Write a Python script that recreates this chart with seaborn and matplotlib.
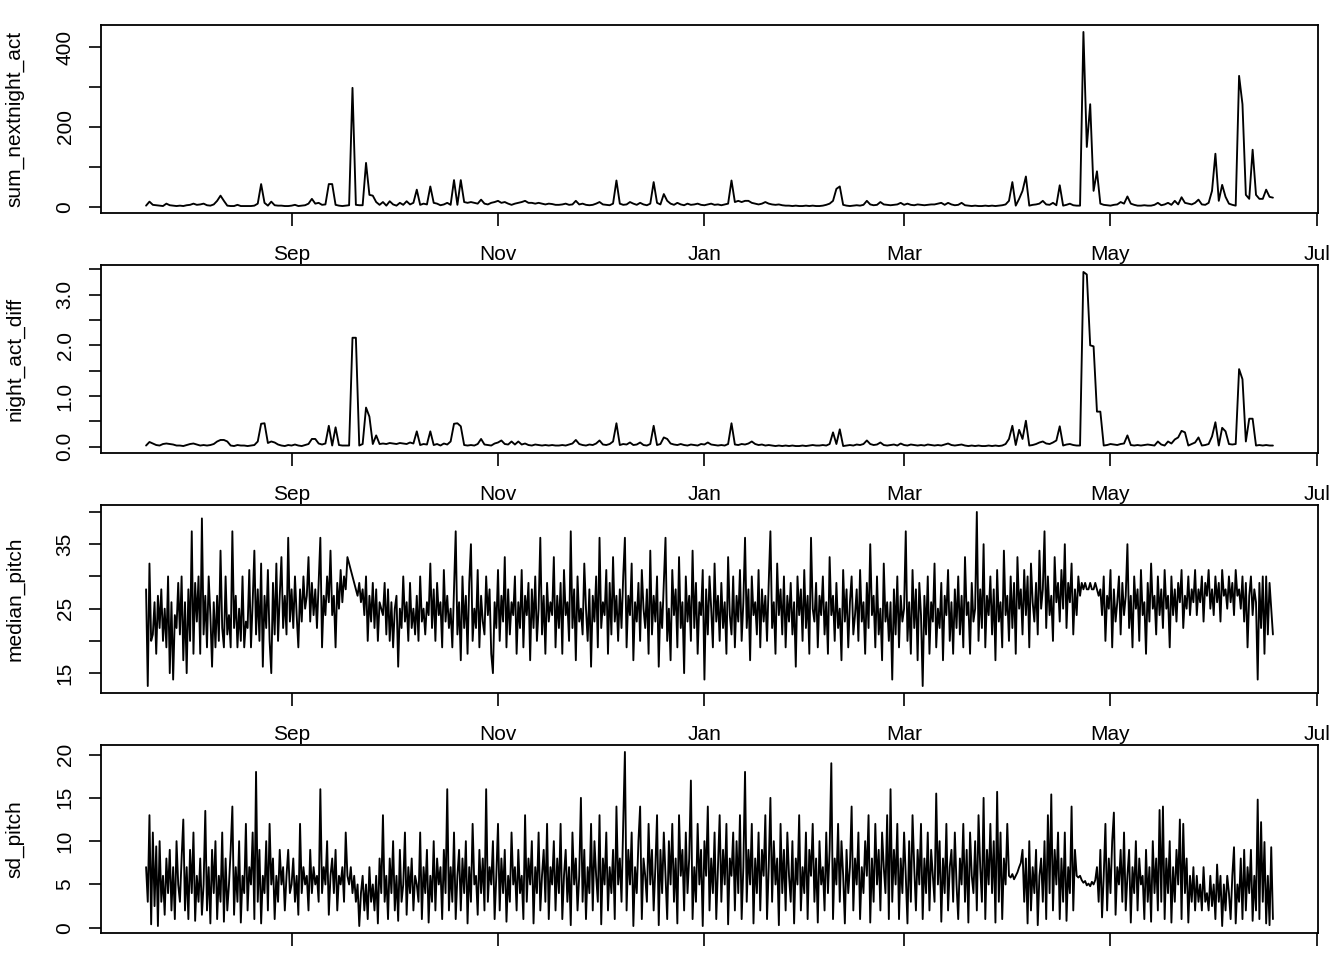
import numpy as np
import pandas as pd
import matplotlib
matplotlib.use("Agg")
import matplotlib.pyplot as plt
import matplotlib.dates as mdates
import seaborn as sns

start = "2018-07-20"

# one value per day
sum_nextnight_act = [
    3, 13, 5, 4, 3, 2, 8, 4, 3, 2,
    3, 2, 4, 5, 8, 5, 6, 8, 4, 3,
    6, 15, 28, 15, 3, 2, 2, 5, 2, 2,
    2, 2, 3, 8, 57, 10, 3, 13, 4, 3,
    3, 2, 2, 3, 5, 2, 3, 4, 8, 20,
    8, 10, 5, 6, 57, 57, 5, 3, 2, 3,
    4, 298, 5, 4, 4, 110, 30, 28, 12, 5,
    12, 3, 14, 6, 3, 10, 5, 14, 6, 10,
    43, 5, 8, 6, 51, 10, 8, 4, 6, 10,
    5, 67, 5, 67, 12, 10, 12, 10, 8, 18,
    8, 6, 10, 12, 15, 10, 12, 8, 5, 8,
    10, 12, 15, 10, 10, 8, 10, 8, 6, 8,
    7, 5, 5, 6, 8, 5, 6, 15, 6, 8,
    5, 4, 5, 8, 12, 6, 5, 4, 8, 66,
    8, 5, 6, 12, 8, 5, 10, 6, 4, 8,
    62, 10, 6, 32, 15, 8, 5, 10, 6, 4,
    8, 5, 6, 8, 5, 4, 6, 8, 5, 6,
    4, 6, 8, 66, 12, 15, 12, 15, 15, 10,
    8, 6, 8, 12, 8, 6, 5, 6, 4, 3,
    3, 2, 3, 2, 2, 3, 2, 3, 2, 2,
    3, 5, 8, 15, 45, 51, 5, 3, 2, 3,
    4, 3, 5, 15, 6, 4, 5, 12, 6, 5,
    4, 5, 6, 10, 5, 8, 5, 4, 6, 5,
    4, 5, 6, 6, 8, 10, 5, 10, 6, 4,
    5, 10, 4, 3, 2, 3, 2, 2, 3, 2,
    3, 2, 3, 4, 6, 15, 62, 3, 20, 40,
    76, 3, 5, 6, 8, 15, 6, 5, 10, 4,
    54, 3, 5, 8, 4, 3, 3, 438, 150, 257,
    40, 89, 8, 5, 4, 3, 5, 6, 12, 8,
    26, 8, 5, 3, 3, 4, 3, 3, 5, 10,
    4, 6, 10, 5, 15, 6, 24, 10, 8, 6,
    10, 18, 6, 5, 10, 40, 133, 15, 55, 25,
    8, 5, 3, 328, 257, 30, 20, 143, 30, 20,
    20, 43, 25, 23]

night_act_diff = [
    0.02, 0.09, 0.06, 0.03, 0.02, 0.05, 0.06, 0.05, 0.04, 0.02,
    0.02, 0.01, 0.03, 0.05, 0.06, 0.04, 0.02, 0.03, 0.02, 0.03,
    0.05, 0.1, 0.13, 0.13, 0.1, 0.02, 0.01, 0.03, 0.02, 0.02,
    0.01, 0.02, 0.03, 0.1, 0.45, 0.46, 0.07, 0.1, 0.08, 0.04,
    0.02, 0.01, 0.03, 0.02, 0.04, 0.02, 0.01, 0.03, 0.05, 0.15,
    0.15, 0.06, 0.04, 0.06, 0.41, 0.02, 0.38, 0.03, 0.02, 0.02,
    0.02, 2.15, 2.15, 0.02, 0.05, 0.77, 0.59, 0.05, 0.22, 0.05,
    0.06, 0.05, 0.07, 0.06, 0.05, 0.07, 0.06, 0.05, 0.08, 0.06,
    0.3, 0.03, 0.05, 0.04, 0.3, 0.03, 0.05, 0.02, 0.06, 0.04,
    0.1, 0.45, 0.46, 0.4, 0.03, 0.02, 0.03, 0.02, 0.05, 0.15,
    0.04, 0.03, 0.02, 0.06, 0.08, 0.12, 0.05, 0.04, 0.1, 0.04,
    0.1, 0.04, 0.06, 0.03, 0.02, 0.04, 0.03, 0.02, 0.03, 0.02,
    0.03, 0.02, 0.02, 0.03, 0.02, 0.04, 0.06, 0.13, 0.05, 0.03,
    0.02, 0.04, 0.03, 0.06, 0.12, 0.04, 0.03, 0.05, 0.1, 0.46,
    0.03, 0.05, 0.04, 0.08, 0.03, 0.04, 0.08, 0.03, 0.02, 0.05,
    0.41, 0.03, 0.05, 0.18, 0.15, 0.06, 0.04, 0.03, 0.05, 0.03,
    0.02, 0.04, 0.03, 0.02, 0.05, 0.04, 0.08, 0.04, 0.03, 0.02,
    0.03, 0.02, 0.05, 0.46, 0.04, 0.03, 0.05, 0.04, 0.06, 0.1,
    0.05, 0.03, 0.04, 0.02, 0.03, 0.02, 0.01, 0.02, 0.01, 0.02,
    0.01, 0.02, 0.01, 0.01, 0.02, 0.01, 0.02, 0.03, 0.02, 0.02,
    0.03, 0.02, 0.05, 0.28, 0.05, 0.34, 0.01, 0.02, 0.03, 0.02,
    0.04, 0.03, 0.05, 0.12, 0.05, 0.03, 0.04, 0.08, 0.03, 0.02,
    0.03, 0.04, 0.02, 0.06, 0.03, 0.02, 0.04, 0.03, 0.02, 0.03,
    0.02, 0.04, 0.03, 0.02, 0.03, 0.02, 0.04, 0.06, 0.03, 0.02,
    0.03, 0.04, 0.02, 0.01, 0.02, 0.01, 0.02, 0.01, 0.01, 0.02,
    0.01, 0.02, 0.01, 0.02, 0.05, 0.15, 0.41, 0.03, 0.33, 0.15,
    0.51, 0.02, 0.03, 0.05, 0.08, 0.1, 0.06, 0.05, 0.08, 0.12,
    0.4, 0.02, 0.04, 0.05, 0.03, 0.02, 0.02, 3.45, 3.4, 2.0,
    1.98, 0.69, 0.69, 0.02, 0.03, 0.05, 0.04, 0.03, 0.05, 0.06,
    0.22, 0.03, 0.02, 0.03, 0.02, 0.03, 0.04, 0.03, 0.02, 0.1,
    0.04, 0.02, 0.1, 0.06, 0.14, 0.18, 0.31, 0.28, 0.02, 0.05,
    0.08, 0.18, 0.02, 0.03, 0.05, 0.2, 0.48, 0.02, 0.37, 0.3,
    0.05, 0.04, 0.05, 1.53, 1.33, 0.1, 0.55, 0.55, 0.02, 0.03,
    0.02, 0.03, 0.02, 0.02]

# two readings per day
median_pitch = [
    28, 13, 32, 20, 21, 26, 18, 27, 22, 28, 20, 25, 19, 30, 15, 26, 14, 24, 22, 29,
    21, 30, 17, 26, 15, 28, 20, 37, 18, 29, 23, 30, 18, 39, 21, 27, 19, 30, 24, 16,
    26, 19, 27, 20, 34, 22, 19, 30, 21, 24, 19, 37, 22, 27, 19, 25, 20, 30, 19, 23,
    22, 31, 19, 26, 34, 21, 28, 20, 32, 16, 27, 22, 31, 20, 15, 29, 21, 32, 20, 27,
    33, 22, 27, 21, 36, 23, 28, 22, 30, 24, 19, 28, 23, 30, 25, 27, 33, 23, 29, 24,
    28, 22, 29, 36, 19, 27, 24, 30, 26, 34, 24, 27, 19, 29, 25, 31, 26, 30, 28, 33,
    32, 31, 30, 29, 28, 27, 29, 26, 28, 24, 30, 20, 27, 23, 29, 22, 28, 20, 26, 25,
    24, 29, 21, 28, 20, 26, 19, 25, 27, 16, 25, 22, 30, 23, 26, 20, 29, 22, 25, 21,
    27, 20, 30, 23, 25, 21, 26, 24, 32, 22, 28, 20, 29, 24, 26, 19, 31, 23, 27, 22,
    25, 19, 28, 37, 21, 26, 17, 30, 22, 27, 18, 29, 35, 20, 25, 22, 31, 19, 27, 23,
    21, 30, 24, 28, 18, 15, 26, 22, 31, 20, 27, 23, 33, 19, 28, 21, 26, 24, 30, 18,
    26, 22, 31, 19, 27, 24, 29, 17, 28, 22, 30, 20, 25, 36, 21, 27, 18, 29, 23, 26,
    24, 33, 19, 27, 22, 29, 18, 31, 24, 26, 20, 37, 22, 28, 17, 30, 23, 25, 21, 32,
    25, 20, 28, 16, 27, 23, 30, 19, 36, 22, 26, 24, 31, 18, 29, 21, 33, 23, 27, 20,
    28, 22, 30, 36, 19, 27, 24, 32, 17, 26, 23, 29, 20, 31, 25, 22, 28, 18, 34, 21,
    27, 23, 30, 16, 26, 22, 29, 36, 20, 25, 17, 31, 24, 28, 19, 33, 22, 26, 15, 30,
    23, 27, 20, 34, 22, 29, 18, 26, 24, 31, 14, 28, 21, 30, 25, 19, 32, 23, 27, 20,
    29, 22, 26, 18, 33, 24, 21, 30, 19, 27, 23, 31, 20, 26, 36, 22, 28, 17, 30, 24,
    26, 21, 31, 19, 28, 23, 27, 20, 29, 37, 22, 26, 18, 32, 24, 28, 21, 30, 19, 27,
    23, 29, 21, 26, 16, 30, 24, 28, 20, 31, 22, 27, 18, 36, 25, 23, 29, 19, 27, 24,
    30, 21, 26, 18, 33, 24, 27, 20, 29, 22, 25, 17, 31, 23, 28, 19, 26, 30, 21, 24,
    28, 20, 31, 23, 26, 18, 29, 22, 35, 24, 27, 19, 30, 21, 25, 17, 32, 23, 26, 20,
    26, 14, 28, 21, 30, 19, 27, 23, 25, 37, 20, 26, 18, 31, 22, 28, 17, 29, 24, 13,
    27, 21, 30, 18, 26, 23, 32, 19, 25, 22, 29, 17, 27, 24, 31, 20, 26, 18, 28, 22,
    30, 21, 27, 19, 33, 24, 26, 18, 29, 23, 25, 40, 20, 28, 22, 35, 19, 27, 24, 30,
    21, 28, 17, 31, 23, 26, 19, 34, 24, 27, 20, 30, 22, 29, 18, 33, 25, 28, 21, 31,
    24, 30, 19, 32, 26, 23, 29, 21, 34, 25, 28, 37, 22, 30, 24, 27, 20, 33, 26, 29,
    23, 31, 25, 35, 22, 29, 26, 32, 21, 28, 24, 30, 27, 29, 28, 29, 28, 28, 29, 28,
    28, 29, 28, 27, 28, 24, 30, 20, 27, 25, 31, 19, 28, 23, 26, 30, 21, 29, 24, 27,
    35, 22, 27, 19, 30, 25, 28, 20, 31, 24, 26, 18, 29, 23, 32, 25, 27, 21, 30, 24,
    28, 22, 31, 25, 27, 19, 30, 24, 28, 23, 29, 26, 31, 22, 27, 25, 30, 24, 28, 26,
    31, 24, 28, 26, 30, 23, 29, 27, 31, 25, 28, 24, 30, 26, 29, 23, 31, 27, 28, 25,
    30, 26, 29, 24, 31, 27, 28, 25, 30, 23, 29, 19, 27, 30, 24, 28, 26, 14, 29, 22,
    30, 18, 30, 21, 29, 25, 21]

sd_pitch = [
    7, 3, 13, 0.4, 11, 2.5, 9.4, 0.2, 10, 3, 6, 1.5, 8, 4, 9, 2, 7, 1, 10, 5,
    3, 8, 12.5, 2, 7, 1, 9, 4, 11, 0.8, 6, 3, 8, 1.5, 5, 13.5, 2, 7, 0.5, 9,
    4, 10, 1, 6, 3, 11, 0.7, 8, 2, 5, 9, 14, 1.5, 7, 3, 10, 0.6, 6, 4, 12,
    2, 7, 5, 11, 1, 18, 3, 9, 0.5, 6, 4, 10, 2, 12, 5, 8, 1, 6, 3, 9,
    5, 7, 2, 6, 9, 4, 5, 8, 3, 6, 1.5, 12, 4, 7, 5, 6, 2, 9, 4, 7,
    5, 6, 3, 16, 4, 7, 5, 10, 1.5, 6, 8, 4, 9, 2, 6, 5, 7, 3, 11, 6,
    5, 7, 4, 6, 3, 5, 0.2, 4, 6, 2, 5, 1, 7, 3, 5, 2, 6, 0.5, 8, 4,
    13, 3, 6, 1, 8, 4, 10, 2, 6, 0.8, 9, 3, 5, 11, 1.5, 7, 4, 8, 2, 6,
    5, 3, 11, 1, 7, 4, 9, 0.6, 6, 3, 10, 2, 8, 5, 7, 1, 9, 4, 16, 2,
    7, 3, 11, 1, 6, 9, 2, 8, 4, 10, 0.5, 7, 3, 12, 5, 6, 1.5, 9, 4, 8,
    2, 16, 3, 7, 5, 10, 1, 6, 12, 2, 8, 4, 9, 0.7, 6, 3, 11, 5, 7, 2,
    9, 4, 6, 1, 13, 3, 8, 5, 10, 0.5, 7, 4, 11, 2, 6, 9, 3, 12, 1, 7,
    5, 10, 2, 8, 4, 12, 1, 6, 9, 3, 7, 0.3, 11, 5, 8, 2, 6, 15, 3, 9,
    1, 7, 4, 12, 2, 10, 6, 3, 13, 0.4, 8, 5, 11, 2, 7, 4, 9, 1, 14, 5,
    8, 3, 12, 20.3, 2, 9, 5, 11, 0.2, 7, 4, 10, 14, 1, 8, 6, 3, 12, 5, 9,
    2, 7, 13, 0.3, 9, 4, 11, 6, 1, 10, 5, 12, 3, 8, 0.5, 13, 6, 9, 2, 11,
    4, 8, 17, 1, 7, 3, 12, 5, 9, 0.2, 10, 6, 14, 2, 8, 4, 11, 1, 7, 13,
    3, 9, 5, 12, 0.4, 8, 6, 11, 2, 10, 4, 13, 1, 7, 18, 3, 9, 5, 12, 0.5,
    8, 4, 11, 2, 9, 6, 13, 1, 7, 15, 3, 10, 5, 8, 0.3, 12, 4, 9, 2, 11,
    6, 3, 10, 0.5, 8, 5, 13, 2, 7, 4, 11, 1, 9, 6, 12, 3, 8, 0.6, 10, 5,
    7, 2, 11, 4, 9, 19, 1, 8, 5, 12, 3, 10, 6, 0.5, 9, 4, 7, 14, 2, 8,
    5, 11, 1, 7, 4, 10, 6, 13, 0.6, 8, 3, 12, 5, 9, 2, 11, 7, 4, 13, 1,
    16, 3, 9, 5, 12, 1, 8, 4, 11, 6, 0.5, 10, 3, 13, 7, 2, 9, 5, 12, 1,
    8, 4, 11, 2, 9, 6, 3, 15.5, 5, 10, 0.7, 8, 4, 12, 2, 7, 9, 3, 11, 5,
    1, 8, 5, 12, 3, 9, 0.6, 11, 6, 4, 10, 2, 13, 7, 3, 15, 1, 9, 5, 12,
    4, 10, 0.6, 15.7, 3, 11, 1, 8, 5, 12, 6, 5.8, 6.2, 5.6, 6, 6.4, 7, 7.5, 9, 3,
    8, 0.5, 10, 2, 7, 4, 9, 0.3, 6, 8, 3, 10, 1, 13, 4, 15.4, 2, 9, 5, 11,
    1, 8, 3, 11, 0.8, 7, 4, 14, 2, 9, 6, 5.8, 6, 5.5, 5.2, 5.4, 4.9, 5.1, 4.8, 5.3,
    5, 5.5, 7, 3, 9, 1.2, 6, 12, 2, 8, 4, 10, 13.3, 1.5, 7, 5, 9, 3, 11, 2,
    6, 9, 0.6, 7, 4, 10, 2, 8, 5, 6, 1, 9, 3, 7, 0.7, 10, 4, 8, 2, 13.6,
    3, 14, 1, 8, 4, 10, 0.6, 7, 3, 9, 5, 12.5, 1, 12, 4, 8, 0.6, 6, 3, 7,
    2, 6, 3, 5, 2, 7, 3, 4, 2, 6, 2.5, 5, 1, 7.3, 3, 6, 0.2, 5, 2, 6,
    4, 1, 6, 9.3, 0.5, 5, 3, 8, 1, 9, 2, 7, 4, 9, 0.8, 6, 2, 14.8, 1, 12.2,
    3, 9.9, 0.5, 6, 0.3, 9.3, 1]

month_ticks = ["2018-09-01", "2018-11-01", "2019-01-01", "2019-03-01", "2019-05-01", "2019-07-01"]
month_labels = ["Sep", "Nov", "Jan", "Mar", "May", "Jul"]

daily = pd.DataFrame({
    "date": pd.date_range(start, periods=len(sum_nextnight_act), freq="D"),
    "sum_nextnight_act": sum_nextnight_act,
    "night_act_diff": night_act_diff[:len(sum_nextnight_act)],
})
pitch = pd.DataFrame({
    "date": pd.date_range(start, periods=len(median_pitch), freq="12h"),
    "median_pitch": median_pitch,
    "sd_pitch": sd_pitch[:len(median_pitch)],
})

sns.set_style("ticks")
plt.rcParams["font.family"] = ["Liberation Sans", "DejaVu Sans"]
plt.rcParams["font.size"] = 15

panels = [
    (daily, "sum_nextnight_act", [0, 100, 200, 300, 400], ["0", "", "200", "", "400"]),
    (daily, "night_act_diff", [0, 0.5, 1, 1.5, 2, 2.5, 3, 3.5], ["0.0", "", "1.0", "", "2.0", "", "3.0", ""]),
    (pitch, "median_pitch", [15, 20, 25, 30, 35, 40], ["15", "", "25", "", "35", ""]),
    (pitch, "sd_pitch", [0, 5, 10, 15, 20], ["0", "5", "10", "15", "20"]),
]

fig = plt.figure(figsize=(13.44, 9.6), dpi=100)
for k, (df, col, yt, yl) in enumerate(panels):
    ax = fig.add_axes([101 / 1344, 1 - (213 + 240 * k) / 960, 1217 / 1344, 188 / 960])
    sns.lineplot(data=df, x="date", y=col, color="black", linewidth=1.35,
                 estimator=None, sort=False, ax=ax)
    lo, hi = df[col].min(), df[col].max()
    ax.set_ylim(lo - 0.04 * (hi - lo), hi + 0.04 * (hi - lo))
    x0, x1 = mdates.date2num(df["date"].min()), mdates.date2num(df["date"].max())
    ax.set_xlim(x0 - 0.04 * (x1 - x0), x1 + 0.04 * (x1 - x0))
    ax.set_xticks(mdates.date2num(pd.to_datetime(month_ticks)))
    # the bottom panel's month labels fall below the figure edge in the original
    ax.set_xticklabels(month_labels if k < 3 else [""] * len(month_labels))
    ax.set_yticks(yt)
    ax.set_yticklabels(yl, rotation=90, va="center")
    ax.set_xlabel("")
    ax.set_ylabel(col, fontsize=15, color="black")
    ax.yaxis.set_label_coords(-0.063, 0.5)
    ax.tick_params(axis="x", length=9, width=1.2, pad=14, labelsize=15, colors="black")
    ax.tick_params(axis="y", length=9, width=1.2, pad=10, labelsize=15, colors="black")
    for s in ax.spines.values():
        s.set_linewidth(1.3)
        s.set_color("black")

fig.savefig("out.png", dpi=100, facecolor="white")
